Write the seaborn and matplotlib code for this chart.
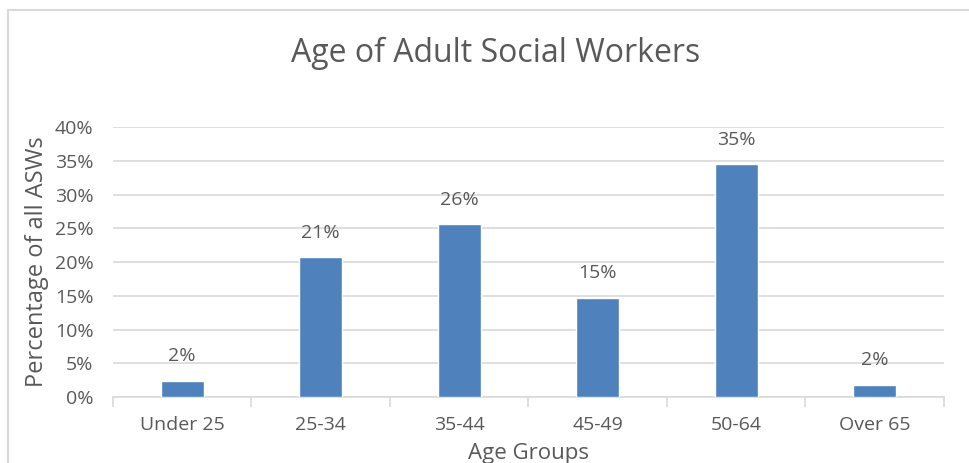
import numpy as np
import pandas as pd
import matplotlib
matplotlib.use("Agg")
import matplotlib.pyplot as plt
import seaborn as sns
from matplotlib.ticker import FuncFormatter, FixedLocator

# 数据
groups = ["Under 25", "25-34", "35-44", "45-49", "50-64", "Over 65"]
shares = [2.4, 20.7, 25.6, 14.7, 34.5, 1.8]
labels = ["2%", "21%", "26%", "15%", "35%", "2%"]

df = pd.DataFrame({"group": groups, "share": shares})

sns.set_theme(style="white")
plt.rcParams["font.family"] = ["Open Sans", "DejaVu Sans"]
grey = "#595959"

fig = plt.figure(figsize=(9.69, 4.63), dpi=100)
ax = fig.add_axes([0.1166, 0.1425, 0.974 - 0.1166, 0.7257 - 0.1425])

sns.barplot(data=df, x="group", y="share", color="#4f81bd", width=0.31,
            saturation=1, ax=ax, zorder=3)

for i, (v, t) in enumerate(zip(shares, labels)):
    ax.text(i, v + 2.3, t, ha="center", va="bottom", fontsize=14, color=grey)

ax.set_ylim(0, 40)
ax.set_xlim(-0.5, 5.5)
ax.set_yticks(np.arange(0, 41, 5))
ax.yaxis.set_major_formatter(FuncFormatter(lambda v, p: f"{v:.0f}%"))
ax.grid(axis="y", color="#d9d9d9", linewidth=1.2, zorder=0)
for s in ["top", "right", "left"]:
    ax.spines[s].set_visible(False)
ax.spines["bottom"].set_color("#d9d9d9")
ax.spines["bottom"].set_linewidth(1.2)
ax.tick_params(axis="y", length=0, labelsize=14, labelcolor=grey, pad=14)
ax.tick_params(axis="x", which="major", length=0, labelsize=14, labelcolor=grey, pad=14)
ax.xaxis.set_minor_locator(FixedLocator(np.arange(-0.5, 6, 1)))
ax.tick_params(axis="x", which="minor", length=7, color="#d9d9d9", width=1.2, direction="out", bottom=True)

ax.set_xlabel("Age Groups", fontsize=16, color=grey, va="center")
ax.xaxis.set_label_coords(0.5, -0.21)
ax.set_ylabel("Percentage of all ASWs", fontsize=17, color=grey, labelpad=4)
fig.text(0.511, 0.885, "Age of Adult Social Workers", ha="center", va="center",
         fontsize=23, color=grey)

# 图表外框
frame = plt.Rectangle((8 / 969, -0.05), 1.1, 1 - 10 / 463 + 0.05, transform=fig.transFigure,
                      fill=False, edgecolor="#d9d9d9", linewidth=1.5, clip_on=False)
fig.patches.append(frame)

fig.savefig("out.png", dpi=100)
